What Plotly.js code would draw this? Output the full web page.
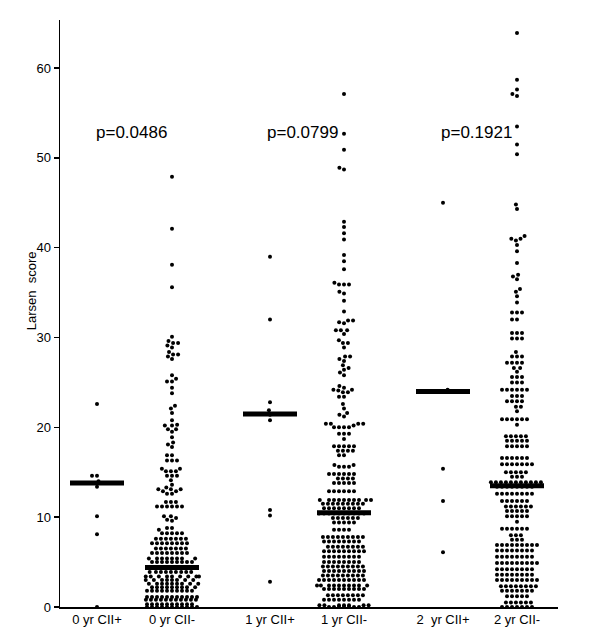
<!DOCTYPE html>
<html>
<head>
<meta charset="utf-8">
<script src="https://cdn.plot.ly/plotly-3.0.1.min.js"></script>
<style>
  html, body { margin: 0; padding: 0; background: #fff; }
  #chart { width: 600px; height: 637px; }
</style>
</head>
<body>
<div id="chart"></div>
<script>
// Categorias do eixo x
var grupos = ['0 yr CII+', '0 yr CII-', '1 yr CII+', '1 yr CII-', '2\u00a0 yr CII+', '2 yr CII-'];

// Valores (Larsen score)
var cIIpos0 = [0, 8.1, 10.1, 13.4, 13.8, 14.0, 14.6, 14.6, 22.6];

var cIIneg0 = [47.9, 42.1, 38.1, 35.6,
    30.1, 29.6, 29.4, 29.4, 29.1, 28.9, 28.4, 28.1, 28.1, 27.9, 27.6,
    25.8, 25.4, 25.1, 25.1, 24.4, 23.8,
    22.4, 22.1, 21.6, 20.8, 20.3, 20.2, 20.2, 19.8, 19.8, 19.5,
    18.9, 18.3, 18.1, 17.8,
    16.9, 16.9, 16.3, 16.3, 16.3,
    15.4, 15.4, 15.1, 15.1, 15.1, 14.6, 14.6, 14.6, 14.1,
    13.6, 13.3, 13.1, 13.1, 13.1, 12.9, 12.9, 12.6, 12.6,
    11.7, 11.7, 11.7, 11.2, 11.2, 11.2, 11.2, 11.2, 11.2,
    10.1, 10.1, 9.9, 9.7, 9.6,
    8.8, 8.8, 8.6,
    8.2, 8.2, 8.2, 8.2, 8.2,
    7.6, 7.6, 7.6, 7.6, 7.6, 7.6, 7.6,
    7.1, 7.1, 7.1, 7.1, 7.1, 7.1, 7.1, 7.1,
    6.5, 6.5, 6.5, 6.5, 6.5, 6.5, 6.5,
    6.0, 6.0, 6.0, 6.0, 6.0, 6.0, 6.0, 6.0,
    5.4, 5.4, 5.4, 5.4, 5.4, 5.4, 5.4, 5.4,
    5.0, 5.0, 5.0, 5.0, 5.0, 5.0, 5.0, 5.0, 5.0,
    4.4, 4.4, 4.4, 4.4, 4.4, 4.4, 4.4, 4.4, 4.4, 4.4,
    3.9, 3.9, 3.9, 3.9, 3.9, 3.9, 3.9, 3.9, 3.9,
    3.4, 3.4, 3.4, 3.4, 3.4, 3.4, 3.4, 3.4, 3.4,
    3.0, 3.0, 3.0, 3.0, 3.0, 3.0, 3.0, 3.0,
    2.6, 2.6, 2.6, 2.6, 2.6, 2.6, 2.6, 2.6, 2.6,
    2.2, 2.2, 2.2, 2.2, 2.2, 2.2, 2.2, 2.2, 2.2,
    1.8, 1.8, 1.8, 1.8, 1.8, 1.8, 1.8, 1.8, 1.8, 1.8,
    1.1, 1.1, 1.1, 1.1, 1.1, 1.1, 1.1, 1.1, 1.1, 1.1, 1.1,
    0.8, 0.8, 0.8, 0.8, 0.8, 0.8, 0.8, 0.8, 0.8, 0.8, 0.8,
    0.3, 0.3, 0.3, 0.3, 0.3, 0.3, 0.3, 0.3, 0.3, 0.3,
    0, 0, 0, 0, 0, 0, 0, 0, 0, 0, 0];

var cIIpos1 = [2.8, 10.2, 10.8, 20.8, 21.4, 21.9, 22.8, 32.0, 39.0];

var cIIneg1 = [57.1, 52.7, 50.9, 48.9, 48.7,
    42.9, 42.3, 41.6, 40.9, 39.2, 38.5, 37.6,
    36.1, 35.9, 35.9, 35.9, 35.1, 34.9, 34.1, 32.9,
    31.9, 31.9, 31.7, 31.6, 30.8, 30.8, 30.8, 30.4,
    29.7, 29.4, 29.4, 28.9,
    27.9, 27.9, 27.6, 27.4, 26.9, 26.6, 26.4, 26.1, 25.8,
    24.6, 24.4, 24.2, 24.2, 24.1, 23.9, 23.9, 23.4, 23.4,
    22.6, 22.1, 21.6, 21.4, 21.2,
    20.4, 20.4, 20.4, 20.4, 20.2, 20.0, 20.0, 20.0, 20.0,
    19.3, 19.3, 19.3, 18.7,
    17.9, 17.9, 17.9, 17.9, 17.9, 17.4, 17.4, 17.4, 17.4, 16.9, 16.9,
    15.8, 15.8, 15.6, 15.6, 15.6,
    14.8, 14.8, 14.8, 14.8, 14.8, 14.8,
    14.3, 14.3, 14.3, 14.3,
    13.8, 13.8, 13.8, 13.8, 13.8,
    12.9, 12.9, 12.9, 12.9, 12.9, 12.9,
    11.9, 11.9, 11.9, 11.9, 11.9, 11.9, 11.9, 11.9, 11.9, 11.9,
    11.5, 11.5, 11.5, 11.5, 11.5, 11.5, 11.5, 11.5, 11.5,
    11.0, 11.0, 11.0, 11.0, 11.0, 11.0, 11.0, 11.0,
    10.4, 10.4, 10.4, 10.4, 10.4, 10.4, 10.4, 10.4, 10.4, 10.4,
    9.9, 9.9, 9.9, 9.9, 9.9, 9.9,
    9.4, 9.4, 9.4, 9.4, 9.4,
    8.6, 8.6, 8.6, 8.6,
    7.8, 7.8, 7.8, 7.8, 7.8, 7.8, 7.8, 7.8, 7.8,
    7.3, 7.3, 7.3, 7.3, 7.3, 7.3, 7.3, 7.3,
    6.7, 6.7, 6.7, 6.7, 6.7, 6.7, 6.7, 6.7,
    6.2, 6.2, 6.2, 6.2, 6.2, 6.2, 6.2, 6.2, 6.2,
    5.6, 5.6, 5.6, 5.6, 5.6, 5.6, 5.6, 5.6,
    5.0, 5.0, 5.0, 5.0, 5.0, 5.0, 5.0, 5.0,
    4.5, 4.5, 4.5, 4.5, 4.5, 4.5, 4.5, 4.5, 4.5,
    4.0, 4.0, 4.0, 4.0, 4.0, 4.0, 4.0, 4.0, 4.0,
    3.5, 3.5, 3.5, 3.5, 3.5, 3.5, 3.5, 3.5, 3.5,
    3.0, 3.0, 3.0, 3.0, 3.0, 3.0, 3.0, 3.0, 3.0, 3.0,
    2.4, 2.4, 2.4, 2.4, 2.4, 2.4, 2.4, 2.4, 2.4, 2.4,
    2.0, 2.0, 2.0, 2.0, 2.0, 2.0, 2.0, 2.0, 2.0,
    1.3, 1.3, 1.3, 1.3, 1.3, 1.3, 1.3, 1.3,
    0.8, 0.8, 0.8, 0.8, 0.8, 0.8, 0.8, 0.8,
    0.2, 0.2, 0.2, 0.2, 0.2, 0.2, 0.2,
    0, 0, 0, 0, 0, 0, 0];

var cIIpos2 = [6.1, 11.8, 15.4, 24.0, 24.0, 24.2, 45.0];

var cIIneg2 = [63.9, 58.7, 57.6, 57.1, 56.9, 53.5, 51.5, 50.4,
    44.8, 44.3, 41.3, 41.0, 41.0, 40.8, 40.3, 39.6, 38.3, 37.0, 36.8, 36.5, 35.4, 35.1, 34.6,
    33.9, 32.8, 32.8, 32.8, 32.0, 32.0, 30.5, 30.5, 30.5, 29.9, 29.9, 29.9,
    28.4, 27.9, 27.9, 27.9, 27.2, 27.2, 27.2, 27.2, 26.6, 26.6, 26.2,
    25.6, 25.6, 25.6, 25.0, 25.0, 25.0,
    24.2, 24.2, 24.2, 24.2, 24.2, 24.2,
    23.5, 23.5, 23.5, 22.9, 22.9, 22.9, 22.9, 22.3, 22.3, 21.8,
    20.9, 20.9, 20.9, 20.9, 20.9, 20.9, 20.3,
    19.0, 19.0, 19.0, 19.0, 19.0,
    18.5, 18.5, 18.5, 18.5, 18.5,
    17.9, 17.9, 17.9, 17.9, 17.9,
    16.6, 16.6, 16.6, 16.6, 16.6, 16.6,
    15.9, 15.9, 15.9, 15.9, 15.9, 15.9, 15.9,
    15.0, 15.0, 15.0, 15.0, 15.0,
    14.5, 14.5, 14.5,
    13.9, 13.9, 13.9, 13.9, 13.9, 13.9, 13.9, 13.9, 13.9, 13.9, 13.9,
    13.4, 13.4, 13.4, 13.4, 13.4, 13.4, 13.4, 13.4,
    12.6, 12.6, 12.6, 12.6, 12.6, 12.6, 12.6, 12.6,
    11.8, 11.8, 11.8, 11.8, 11.8, 11.8,
    11.2, 11.2, 11.2, 11.2, 11.2, 11.2,
    10.7, 10.7, 10.7, 10.7, 10.7,
    10.1, 10.1, 10.1, 10.1, 10.1,
    9.5,
    8.7, 8.7, 8.7, 8.7, 8.7, 8.7,
    8.0, 8.0, 8.0, 7.5, 7.5, 7.5,
    6.9, 6.9, 6.9, 6.9, 6.9, 6.9, 6.9, 6.9, 6.9,
    6.3, 6.3, 6.3, 6.3, 6.3, 6.3, 6.3, 6.3,
    5.6, 5.6, 5.6, 5.6, 5.6, 5.6, 5.6, 5.6,
    4.9, 4.9, 4.9, 4.9, 4.9, 4.9, 4.9, 4.9, 4.9,
    4.2, 4.2, 4.2, 4.2, 4.2, 4.2, 4.2, 4.2,
    3.6, 3.6, 3.6, 3.6, 3.6, 3.6, 3.6, 3.6,
    3.0, 3.0, 3.0, 3.0, 3.0, 3.0, 3.0, 3.0, 3.0,
    2.3, 2.3, 2.3, 2.3, 2.3, 2.3, 2.3, 2.3,
    1.8, 1.8, 1.8, 1.8, 1.8, 1.8, 1.8,
    1.2, 1.2, 1.2, 1.2, 1.2,
    0.5, 0.5, 0.5, 0.5, 0.5, 0.5,
    0, 0, 0, 0, 0, 0, 0];

// Medianas (barras horizontais)
var medianas = [13.8, 4.4, 21.5, 10.5, 24.0, 13.5];

// p-valores entre pares
var pTextos = ['p=0.0486', 'p=0.0799', 'p=0.1921'];

var todos = [cIIpos0, cIIneg0, cIIpos1, cIIneg1, cIIpos2, cIIneg2];

// Layout em pixels
var margem = { l: 60, r: 42, t: 20, b: 30 };
var largPlot = 600 - margem.l - margem.r;   // 1 unidade x = 1 px
var altPlot = 637 - margem.t - margem.b;
var yMax = 65.35;
var pxPorY = altPlot / yMax;
var posX = [37, 112, 210, 284, 383, 457];
var pPosX = [71, 242, 416];
var pPosY = 52.8;
var meiaLarg = 27;

// Distribui os pontos lado a lado (beeswarm); quando não cabem na coluna,
// aceita sobreposição vertical cada vez maior (como no GraphPad)
function enxame(vals, dx, dys) {
    var idx = vals.map((v, i) => i).sort((a, b) => vals[a] - vals[b]);
    var colocados = [];
    var xs = new Array(vals.length);
    idx.forEach(i => {
        var yp = vals[i] * pxPorY;
        var x = null;
        for (var n = 0; n < dys.length && x === null; n++) {
            var k = dx / dys[n];
            var perto = colocados.filter(p => Math.abs(p.y - yp) * k < dx);
            var cands = [0];
            perto.forEach(p => {
                var dyk = (p.y - yp) * k;
                var w = Math.sqrt(dx * dx - dyk * dyk);
                cands.push(p.x + w, p.x - w);
            });
            cands.sort((a, b) => (Math.abs(a) - Math.abs(b)) || (a - b));
            var c = cands.find(c => perto.every(p => {
                var dyk = (p.y - yp) * k;
                return (p.x - c) * (p.x - c) + dyk * dyk >= dx * dx - 1e-6;
            }));
            if (c !== undefined && Math.abs(c) <= meiaLarg) x = c;
            if (n === dys.length - 1 && x === null) x = Math.max(-meiaLarg, Math.min(meiaLarg, c));
        }
        xs[i] = x;
        colocados.push({ x: x, y: yp });
    });
    return xs;
}

var dados = [];
todos.forEach((vals, g) => {
    var desloc = enxame(vals, 5, [4.6, 2.6, 1.5]);
    dados.push({
        x: desloc.map(v => posX[g] + v),
        y: vals,
        type: 'scatter',
        mode: 'markers',
        cliponaxis: false,
        marker: { color: '#000', size: 4 },
        hoverinfo: 'y'
    });
});

// Barras das medianas
medianas.forEach((m, g) => {
    dados.push({
        x: [posX[g] - 27, posX[g] + 27],
        y: [m, m],
        type: 'scatter',
        mode: 'lines',
        line: { color: '#000', width: 5 },
        hoverinfo: 'skip'
    });
});

var fonte = { family: 'Arial, Liberation Sans, sans-serif', color: '#000' };

const layout = {
    width: 600,
    height: 637,
    margin: margem,
    showlegend: false,
    paper_bgcolor: '#fff',
    plot_bgcolor: '#fff',
    font: fonte,
    xaxis: {
        range: [0, largPlot],
        showgrid: false,
        zeroline: false,
        showline: true,
        linecolor: '#000',
        linewidth: 1.5,
        ticks: '',
        tickvals: posX,
        ticktext: grupos,
        tickfont: { family: fonte.family, size: 13, color: '#000' }
    },
    yaxis: {
        range: [0, yMax],
        showgrid: false,
        zeroline: false,
        showline: true,
        linecolor: '#000',
        linewidth: 1.5,
        ticks: 'outside',
        ticklen: 5,
        tickwidth: 1.5,
        tickcolor: '#000',
        tickvals: [0, 10, 20, 30, 40, 50, 60],
        tickfont: { family: fonte.family, size: 13, color: '#000' }
    },
    annotations: pTextos.map((t, i) => ({
        x: pPosX[i],
        y: pPosY,
        text: t,
        showarrow: false,
        font: { family: fonte.family, size: 17, color: '#000' }
    })).concat([{
        // título do eixo y
        xref: 'paper', yref: 'paper',
        x: -29 / largPlot, y: 0.538,
        xanchor: 'center', yanchor: 'middle',
        text: 'Larsen\u00a0 score',
        textangle: -90,
        showarrow: false,
        font: { family: fonte.family, size: 13, color: '#000' }
    }])
};

Plotly.newPlot('chart', dados, layout, { displayModeBar: false, staticPlot: true });
</script>
</body>
</html>
